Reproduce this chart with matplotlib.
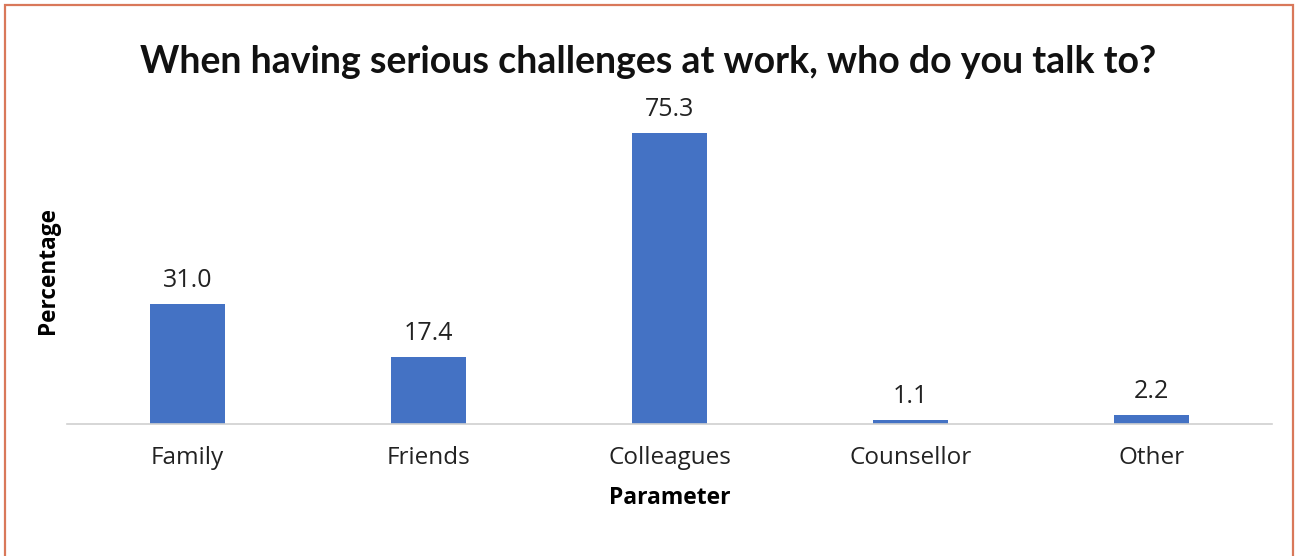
import matplotlib.pyplot as plt
from matplotlib.patches import Rectangle

categories = ["Family", "Friends", "Colleagues", "Counsellor", "Other"]
values = [31.0, 17.4, 75.3, 1.1, 2.2]

W, H = 1295, 556
fig = plt.figure(figsize=(W / 100, H / 100), dpi=100)
fig.patch.set_facecolor("white")

# outer chart frame (bottom edge runs off the canvas)
fig.add_artist(Rectangle((5 / W, -0.05), (1293 - 5) / W, 1.05 - 5 / H,
                         transform=fig.transFigure, fill=False,
                         edgecolor="#D9785A", linewidth=1.6))

ax_left, ax_right = 67 / W, 1272 / W
ax_bottom, ax_top = 1 - 424 / H, 1 - 99 / H
ax = fig.add_axes([ax_left, ax_bottom, ax_right - ax_left, ax_top - ax_bottom])

x = range(len(categories))
bars = ax.bar(x, values, width=0.31, color="#4472C4")
ax.set_xlim(-0.5, len(categories) - 0.5)
ax.set_ylim(0, 84)

for b, v in zip(bars, values):
    ax.annotate(f"{v:.1f}", (b.get_x() + b.get_width() / 2, v),
                xytext=(0, 8), textcoords="offset points",
                ha="center", va="bottom", fontsize=18,
                family="Open Sans", color="#222222")

for s in ("top", "right", "left"):
    ax.spines[s].set_visible(False)
ax.spines["bottom"].set_color("#D0D0D0")
ax.spines["bottom"].set_linewidth(1.2)
ax.set_yticks([])
ax.set_xticks(list(x))
ax.set_xticklabels(categories, fontsize=17.5, family="Open Sans", color="#222222")
ax.tick_params(axis="x", length=0, pad=16)

fig.text(670 / W, 1 - 498 / H, "Parameter", ha="center", va="center",
         fontsize=16.5, family="Open Sans", fontweight="bold")
fig.text(48 / W, 1 - 270 / H, "Percentage", rotation=90, ha="center",
         va="center", fontsize=16.3, family="Open Sans", fontweight="bold")

fig.text(648 / W, 1 - 62 / H,
         "When having serious challenges at work, who do you talk to?",
         ha="center", va="center", fontsize=27, family="Lato",
         fontweight="bold", color="#111111")

fig.savefig("out.png", dpi=100)
